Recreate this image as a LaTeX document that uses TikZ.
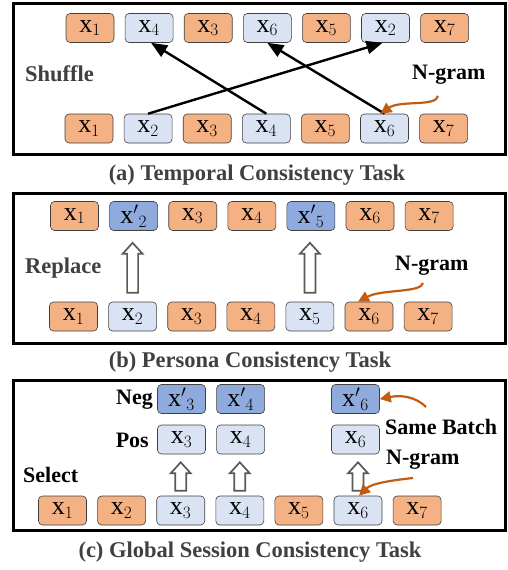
\documentclass[tikz,border=0pt]{standalone}
\usepackage{amsmath}
\usepackage{fontspec}
\setmainfont{Liberation Serif}
\usepackage{tikz}
\usetikzlibrary{arrows.meta,positioning,calc}

\definecolor{tokorange}{HTML}{F4B183}
\definecolor{toklight}{HTML}{DAE3F3}
\definecolor{tokdark}{HTML}{8FAADC}
\definecolor{boxline}{HTML}{404040}
\definecolor{ngorange}{HTML}{C55A11}
\definecolor{capgray}{HTML}{404040}
\definecolor{hollowgray}{HTML}{595959}

\tikzset{
  tok/.style={draw=boxline, rounded corners=4pt, minimum width=48pt, minimum height=29pt,
    inner sep=0pt, line width=0.6pt, font=\fontsize{26}{28}\selectfont},
  orng/.style={tok, fill=tokorange},
  lblue/.style={tok, fill=toklight},
  dblue/.style={tok, fill=tokdark},
  panel/.style={draw, line width=3pt},
  lbl/.style={inner sep=0pt, font=\bfseries\fontsize{22}{24}\selectfont},
  captxt/.style={lbl, text=capgray, font=\bfseries\fontsize{22.5}{24}\selectfont},
  swap/.style={-{Triangle[length=16pt,width=13pt]}, line width=2.4pt},
  pointer/.style={draw=ngorange, line width=2.2pt, -{Triangle[length=11pt,width=11pt]}},
  hollow/.style={draw=hollowgray, fill=white, line width=1.7pt}
}

% hollow up arrow from node #1 to node #2, gaps #3 (bottom) and #4 (top)
\newcommand{\hollowup}[4]{%
  \draw[hollow] let \p1=($(#1.north)+(0,-#3)$), \p2=($(#2.south)+(0,#4)$) in
    (\x1-5.5pt,\y1) -- (\x1+5.5pt,\y1) -- (\x1+5.5pt,\y2-11pt) -- (\x1+10pt,\y2-11pt)
    -- (\x1,\y2) -- (\x1-10pt,\y2-11pt) -- (\x1-5.5pt,\y2-11pt) -- cycle;}

\begin{document}
\begin{tikzpicture}[x=1pt,y=-1pt,node distance=10.5pt]
\useasboundingbox (0,0) rectangle (507,570);

% (a) temporal consistency
\draw[panel] (13.5,3.5) rectangle (505.5,154);
\node[orng]  (at1) at (90,28) {$\mathrm{x}_{1}$};
\node[lblue] (at2) [right=of at1] {$\mathrm{x}_{4}$};
\node[orng]  (at3) [right=of at2] {$\mathrm{x}_{3}$};
\node[lblue] (at4) [right=of at3] {$\mathrm{x}_{6}$};
\node[orng]  (at5) [right=of at4] {$\mathrm{x}_{5}$};
\node[lblue] (at6) [right=of at5] {$\mathrm{x}_{2}$};
\node[orng]  (at7) [right=of at6] {$\mathrm{x}_{7}$};
\node[orng]  (ab1) at (89,128.5) {$\mathrm{x}_{1}$};
\node[lblue] (ab2) [right=of ab1] {$\mathrm{x}_{2}$};
\node[orng]  (ab3) [right=of ab2] {$\mathrm{x}_{3}$};
\node[lblue] (ab4) [right=of ab3] {$\mathrm{x}_{4}$};
\node[orng]  (ab5) [right=of ab4] {$\mathrm{x}_{5}$};
\node[lblue] (ab6) [right=of ab5] {$\mathrm{x}_{6}$};
\node[orng]  (ab7) [right=of ab6] {$\mathrm{x}_{7}$};
\node[captxt, anchor=west] (shuffle) at (25,74) {Shuffle};
\node[lbl, anchor=west] (ngrama) at (412,75) {N-gram};
\draw[swap] (ab2.north) -- ([xshift=-3pt]at6.south);
\draw[swap] (ab4.north) -- ([xshift=2pt]at2.south);
\draw[swap] (ab6.north) -- (at4.south);
\coordinate (na) at (438,96);
\draw[pointer] (na) .. controls (436,107) and (400,100) .. ([xshift=-4pt]ab6.north);
\node[captxt] (capa) at (257,175) {(a) Temporal Consistency Task};

% (b) persona consistency
\draw[panel] (13.5,193.5) rectangle (505.5,343.5);
\node[orng]  (bt1) at (74.5,216) {$\mathrm{x}_{1}$};
\node[dblue] (bt2) [right=of bt1] {${\mathrm{x}'}_{2}$};
\node[orng]  (bt3) [right=of bt2] {$\mathrm{x}_{3}$};
\node[orng]  (bt4) [right=of bt3] {$\mathrm{x}_{4}$};
\node[dblue] (bt5) [right=of bt4] {${\mathrm{x}'}_{5}$};
\node[orng]  (bt6) [right=of bt5] {$\mathrm{x}_{6}$};
\node[orng]  (bt7) [right=of bt6] {$\mathrm{x}_{7}$};
\node[orng]  (bb1) at (73.5,316.5) {$\mathrm{x}_{1}$};
\node[lblue] (bb2) [right=of bb1] {$\mathrm{x}_{2}$};
\node[orng]  (bb3) [right=of bb2] {$\mathrm{x}_{3}$};
\node[orng]  (bb4) [right=of bb3] {$\mathrm{x}_{4}$};
\node[lblue] (bb5) [right=of bb4] {$\mathrm{x}_{5}$};
\node[orng]  (bb6) [right=of bb5] {$\mathrm{x}_{6}$};
\node[orng]  (bb7) [right=of bb6] {$\mathrm{x}_{7}$};
\node[captxt, anchor=west] (replace) at (25,268) {Replace};
\node[lbl, anchor=west] (ngramb) at (395,266) {N-gram};
\hollowup{bb2}{bt2}{9}{12}
\hollowup{bb5}{bt5}{9}{12}
\coordinate (nb) at (423,283);
\draw[pointer] (nb) .. controls (421,293) and (382,289) .. ([xshift=-11pt]bb6.north);
\node[captxt] (capb) at (250,362) {(b) Persona Consistency Task};

% (c) global session consistency
\draw[panel] (13.5,380.5) rectangle (505.5,530.5);
\node[dblue] (cn3) at (181.5,399) {${\mathrm{x}'}_{3}$};
\node[dblue] (cn4) [right=of cn3] {${\mathrm{x}'}_{4}$};
\node[dblue] (cn6) at (355.5,399) {${\mathrm{x}'}_{6}$};
\node[lblue] (cp3) at (181.5,439.5) {$\mathrm{x}_{3}$};
\node[lblue] (cp4) [right=of cp3] {$\mathrm{x}_{4}$};
\node[lblue] (cp6) at (355.5,439.5) {$\mathrm{x}_{6}$};
\node[orng]  (cb1) at (62.5,510.5) {$\mathrm{x}_{1}$};
\node[orng]  (cb2) [right=of cb1] {$\mathrm{x}_{2}$};
\node[lblue] (cb3) [right=of cb2] {$\mathrm{x}_{3}$};
\node[lblue] (cb4) [right=of cb3] {$\mathrm{x}_{4}$};
\node[orng]  (cb5) [right=of cb4] {$\mathrm{x}_{5}$};
\node[lblue] (cb6) [right=of cb5] {$\mathrm{x}_{6}$};
\node[orng]  (cb7) [right=of cb6] {$\mathrm{x}_{7}$};
\node[lbl, anchor=east] (neg) at (153,400) {Neg};
\node[lbl, anchor=east] (pos) at (149,440) {Pos};
\node[lbl, anchor=west] (select) at (23,475) {Select};
\node[lbl, anchor=west] (batch) at (385,427) {Same Batch};
\node[lbl, anchor=west] (ngramc) at (386,460) {N-gram};
\hollowup{cb3}{cp3}{5}{8}
\hollowup{cb4}{cp4}{5}{8}
\hollowup{cb6}{cp6}{5}{8}
\coordinate (nc1) at (426,407);
\draw[pointer] (nc1) .. controls (415,396) and (400,395) .. (cn6.east);
\coordinate (nc2) at (413,478);
\draw[pointer] (nc2) .. controls (395,480) and (372,483) .. ([xshift=1pt]cb6.north);
\node[captxt] (capc) at (250,552) {(c) Global Session Consistency Task};
\end{tikzpicture}
\end{document}
